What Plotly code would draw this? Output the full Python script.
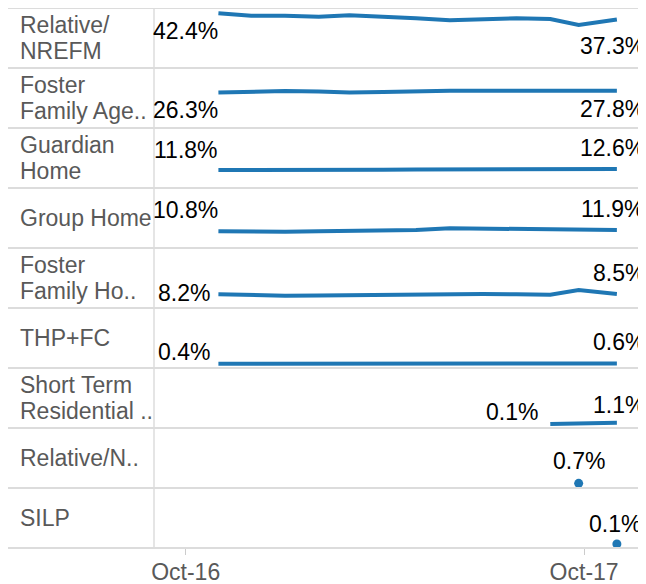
import plotly.graph_objects as go
from plotly.subplots import make_subplots

placements = ['Relative/\nNREFM', 'Foster\nFamily Age..', 'Guardian\nHome', 'Group Home',
              'Foster\nFamily Ho..', 'THP+FC', 'Short Term\nResidential ..', 'Relative/N..', 'SILP']

months = ['2016-10-31', '2016-11-30', '2016-12-31', '2017-01-31', '2017-02-28', '2017-03-31', '2017-04-30',
          '2017-05-31', '2017-06-30', '2017-07-31', '2017-08-31', '2017-09-26', '2017-10-31']
short_term_months = ['2017-08-31', '2017-09-26', '2017-10-31']
relative_n_months = ['2017-09-26']
silp_months = ['2017-10-31']

relative_nrefm = [42.4, 40.4, 40.4, 39.6, 40.7, 39.6, 38.2, 36.6, 37.4, 38.2, 37.7, 32.7, 37.3]
foster_family_agency = [26.3, 26.9, 27.6, 27.2, 26.4, 26.9, 27.7, 27.8, 27.8, 27.7, 27.7, 27.8, 27.8]
guardian_home = [11.8, 11.7, 11.8, 11.9, 12.0, 12.1, 12.2, 12.3, 12.5, 12.5, 12.6, 12.7, 12.6]
group_home = [10.8, 10.5, 10.3, 10.8, 11.1, 11.4, 11.9, 13.2, 13.0, 12.5, 13.0, 12.7, 11.9]
foster_family_home = [8.2, 7.6, 7.1, 7.3, 7.6, 7.9, 8.2, 8.4, 8.5, 8.3, 7.9, 11.7, 8.5]
thp_fc = [0.4, 0.4, 0.4, 0.4, 0.5, 0.5, 0.5, 0.5, 0.5, 0.5, 0.5, 0.6, 0.6]
short_term_residential = [0.1, 0.5, 1.1]
relative_n = [0.7]
silp = [0.1]

series = [(months, relative_nrefm), (months, foster_family_agency), (months, guardian_home),
          (months, group_home), (months, foster_family_home), (months, thp_fc),
          (short_term_months, short_term_residential), (relative_n_months, relative_n),
          (silp_months, silp)]

# label offsets in px: (start xshift, start yshift, end xanchor, end xshift, end yshift)
label_pos = [(2, -18, 'right', 30, -27), (2, -17, 'right', 30, -18), (2, 20, 'right', 30, 21),
             (2, 21, 'right', 30, 21), (-6, 1, 'right', 30, 21), (-6, 12, 'right', 30, 21),
             (-10, 12, 'right', 30, 18), (None, None, 'center', 0, 22), (None, None, 'center', -2, 20)]

blue = '#1f77b4'
font = 'Arial, Liberation Sans, sans-serif'
fs = 23
n = len(placements)
pw = 500  # plot width in px

fig = make_subplots(rows=n, cols=1, shared_xaxes=True, vertical_spacing=0)

for i, (dates, vals) in enumerate(series):
    r = i + 1
    if len(vals) > 1:
        fig.add_trace(go.Scatter(x=dates, y=vals, mode='lines', line={'color': blue, 'width': 4},
                                 showlegend=False), row=r, col=1)
    else:
        fig.add_trace(go.Scatter(x=dates, y=vals, mode='markers', marker={'color': blue, 'size': 9},
                                 showlegend=False), row=r, col=1)
    xr = 'x' if r == 1 else 'x%d' % r
    yr = 'y' if r == 1 else 'y%d' % r
    sx, sy, ea, ex, ey = label_pos[i]
    if sx is not None:
        fig.add_annotation(x=dates[0], y=vals[0], xref=xr, yref=yr, text='%.1f%%' % vals[0],
                           showarrow=False, xanchor='right', yanchor='middle', xshift=sx, yshift=sy,
                           font={'size': fs, 'color': '#000000', 'family': font})
    fig.add_annotation(x=dates[-1], y=vals[-1], xref=xr, yref=yr, text='%.1f%%' % vals[-1],
                       showarrow=False, xanchor=ea, yanchor='middle', xshift=ex, yshift=ey,
                       font={'size': fs, 'color': '#000000', 'family': font})

    # row label
    lines = placements[i].split('\n')
    yc = (540 - (30 + 60 * i)) / 540
    for k, txt in enumerate(lines):
        off = (k - (len(lines) - 1) / 2) * -26
        fig.add_annotation(x=-136 / pw, y=yc, xref='paper', yref='paper', text=txt,
                           showarrow=False, xanchor='left', yanchor='middle', yshift=off,
                           font={'size': fs, 'color': '#595959', 'family': font})
    fig.update_yaxes(range=[-3.2, 46.8], visible=False, fixedrange=True, row=r, col=1)

for k in range(n + 1):
    yp = (540 - 60 * k) / 540
    fig.add_shape(type='line', xref='paper', yref='paper', x0=-146 / pw, x1=1, y0=yp, y1=yp,
                  line={'color': '#dcdcdc', 'width': 2})
fig.add_shape(type='line', xref='paper', yref='paper', x0=0, x1=0, y0=0, y1=1,
              line={'color': '#dcdcdc', 'width': 1.5})

fig.update_xaxes(range=['2016-09-02', '2017-12-04'], showgrid=False, zeroline=False, showline=False,
                 showticklabels=False, ticks='')
fig.update_xaxes(tickvals=['2016-10-01', '2017-10-01'], ticktext=['Oct-16', 'Oct-17'],
                 showticklabels=True, ticks='outside', ticklen=6, tickcolor='#cccccc', tickwidth=1,
                 ticklabelstandoff=-3,
                 tickfont={'size': fs, 'color': '#595959', 'family': font}, row=n, col=1)

fig.update_layout(width=646, height=584, margin={'l': 146, 'r': 0, 't': 0, 'b': 44},
                  plot_bgcolor='white', paper_bgcolor='white')

fig.write_html('out.html')
